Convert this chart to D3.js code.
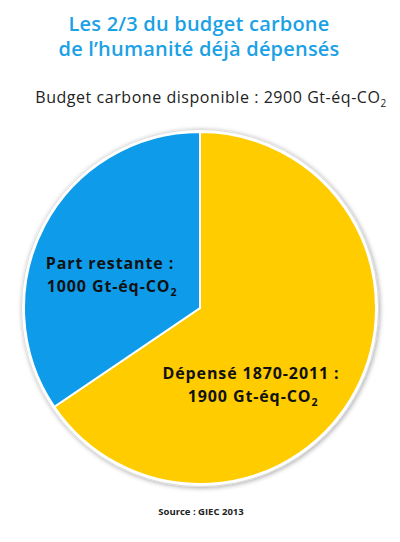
<!DOCTYPE html>
<html><head><meta charset="utf-8">
<script src="https://cdn.jsdelivr.net/npm/d3@7"></script>
<style>body{margin:0;background:#fff;}svg{display:block;}</style>
</head><body>
<script>
const categories = ["Dépensé 1870-2011", "Part restante"];
const values = [1900, 1000];
const colors = ["#ffcc00", "#0e9cea"];
const labelLines = [["Dépensé 1870-2011 :", "1900 Gt-éq-CO"], ["Part restante :", "1000 Gt-éq-CO"]];
const titleLines = ["Les 2/3 du budget carbone", "de l\u2019humanité déjà dépensés"];
const subtitle = "Budget carbone disponible : 2900 Gt-éq-CO";
const source = "Source : GIEC 2013";

const W = 400, H = 542;
const svg = d3.select("body").append("svg").attr("width", W).attr("height", H);
const font = "'Open Sans', sans-serif";

const defs = svg.append("defs");
const f = defs.append("filter").attr("id", "sh").attr("x", "-20%").attr("y", "-20%").attr("width", "140%").attr("height", "140%");
f.append("feGaussianBlur").attr("in", "SourceAlpha").attr("stdDeviation", 2.5).attr("result", "b");
f.append("feOffset").attr("in", "b").attr("dx", 1).attr("dy", 1).attr("result", "o");
f.append("feComponentTransfer").attr("in", "o").attr("result", "o2")
  .append("feFuncA").attr("type", "linear").attr("slope", 0.35);
const m = f.append("feMerge");
m.append("feMergeNode").attr("in", "o2");
m.append("feMergeNode").attr("in", "SourceGraphic");

// Title
svg.append("g").selectAll("text").data(titleLines).join("text")
  .attr("x", 199).attr("y", (d, i) => 31 + i * 25)
  .attr("text-anchor", "middle").attr("font-family", font).attr("font-weight", 600)
  .attr("font-size", 20).attr("letter-spacing", 0.2).attr("fill", "#1ba1e6").text(d => d);

// Subtitle
const st = svg.append("text").attr("x", 211).attr("y", 103).attr("text-anchor", "middle")
  .attr("font-family", font).attr("font-size", 16).attr("letter-spacing", 0.55).attr("fill", "#222");
st.append("tspan").text(subtitle);
st.append("tspan").attr("font-size", 10).attr("dy", 4).text("2");

// Pie
const cx = 200, cy = 308, R = 176;
const g = svg.append("g").attr("transform", `translate(${cx},${cy})`);
g.append("circle").attr("r", R + 2.5).attr("fill", "#fff").attr("stroke", "#d8d8d8").attr("stroke-width", 0.8).attr("filter", "url(#sh)");
const pie = d3.pie().sort(null).value(d => d)(values);
const arc = d3.arc().innerRadius(0).outerRadius(R);
g.selectAll("path").data(pie).join("path")
  .attr("d", arc).attr("fill", (d, i) => colors[i])
  .attr("stroke", "#fff").attr("stroke-width", 2);

// Labels
const labelPos = [[251, 379], [110, 269]];
labelLines.forEach((lines, i) => {
  lines.forEach((line, j) => {
    const t = svg.append("text").attr("x", labelPos[i][0] + (j === 1 ? 2 : 0)).attr("y", labelPos[i][1] + j * 23)
      .attr("text-anchor", "middle").attr("font-family", font).attr("font-weight", 700)
      .attr("font-size", 16).attr("letter-spacing", 0.9).attr("fill", "#111");
    t.append("tspan").text(line);
    if (j === 1) t.append("tspan").attr("font-size", 10.5).attr("dy", 4).text("2");
  });
});

// Source
svg.append("text").attr("x", 201).attr("y", 515).attr("text-anchor", "middle")
  .attr("font-family", font).attr("font-weight", 700).attr("font-size", 9.5)
  .attr("fill", "#222").attr("letter-spacing", 0).text(source);
</script>
</body></html>
